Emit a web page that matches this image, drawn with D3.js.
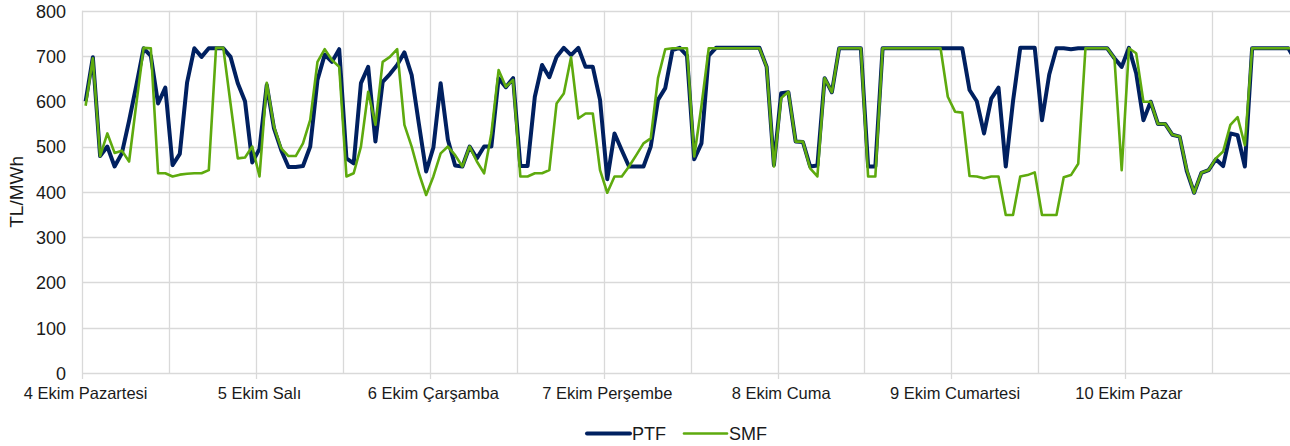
<!DOCTYPE html>
<html>
<head>
<meta charset="utf-8">
<script src="https://cdn.jsdelivr.net/npm/d3@7"></script>
<style>
  body { margin: 0; background: #fff; }
  text { font-family: "Liberation Sans", Arial, sans-serif; fill: #1a1a1a; }
</style>
</head>
<body>
<svg width="1290" height="446"></svg>
<script>
/* hourly PTF / SMF, 4-10 Ekim, 24 values per day */
var dayLabels = ["4 Ekim Pazartesi", "5 Ekim Salı", "6 Ekim Çarşamba", "7 Ekim Perşembe",
                 "8 Ekim Cuma", "9 Ekim Cumartesi", "10 Ekim Pazar"];

var ptf = [
  600,697,479,500,456,485,557,635,717,700,595,630,459,484,641,717,698,717,717,717,698,640,600,465,
  495,636,540,492,455,455,457,500,647,703,687,715,474,463,640,676,511,643,660,680,708,658,550,445,
  498,640,515,458,456,500,474,500,500,651,631,651,457,457,610,680,653,698,718,702,718,676,676,603,
  428,529,492,456,456,456,500,603,629,713,718,701,472,507,701,718,718,718,718,718,718,718,676,459,
  618,620,511,510,456,458,651,620,717,717,717,717,456,456,717,717,717,717,717,717,717,717,717,717,
  717,717,625,600,529,606,630,456,600,718,718,718,558,659,717,717,715,717,717,717,717,717,695,676,
  718,662,558,599,550,550,526,522,445,398,442,448,472,457,529,525,456,717,717,717,717,717,717,690
];

var smf = [
  590,695,479,529,486,491,467,595,718,717,441,441,434,438,440,441,441,448,718,718,595,474,476,500,
  434,641,544,496,479,479,507,559,687,715,691,676,434,441,500,621,548,687,698,715,548,500,441,393,
  434,485,500,481,456,500,467,441,529,669,632,647,434,434,441,441,448,595,617,697,562,573,573,448,
  398,434,434,456,481,507,518,651,715,717,717,717,478,590,717,717,717,717,717,717,717,717,676,456,
  607,621,511,511,452,434,651,620,717,717,717,717,434,434,717,717,717,717,717,717,717,717,717,610,
  577,575,435,434,430,434,434,349,349,434,437,443,349,349,349,432,437,462,717,717,717,717,695,448,
  717,706,599,599,550,550,526,522,448,398,442,448,474,489,548,565,503,717,717,717,717,717,717,717
];

var yTicks = [0, 100, 200, 300, 400, 500, 600, 700, 800];

var series = [
  {name: "PTF", values: ptf, color: "#002060", width: 4},
  {name: "SMF", values: smf, color: "#5eaa0e", width: 2.6}
];

// plot area runs a bit past the right edge of the picture (cropped in the original)
// (not "top": that name is taken by window.top)
var plotL = 82, plotR = 1299.2, plotT = 10.7, plotB = 373;

var hours = d3.range(ptf.length);
var x = d3.scaleBand().domain(hours).range([plotL, plotR]).padding(0);
var y = d3.scaleLinear().domain([0, 800]).range([plotB, plotT]);
var cx = function(i) { return x(i) + x.bandwidth() / 2; };

var svg = d3.select("svg");
var grid = "#d9d9d9";

// horizontal gridlines (0 line doubles as the axis)
svg.append("g").selectAll("line")
  .data(yTicks)
  .enter().append("line")
  .attr("x1", plotL).attr("x2", plotR)
  .attr("y1", function(d) { return Math.round(y(d)) + 0.5; })
  .attr("y2", function(d) { return Math.round(y(d)) + 0.5; })
  .attr("stroke", grid).attr("stroke-width", 1.3);

// vertical gridlines every 12 hours, at category boundaries
var halfDays = d3.range(0, hours.length, 12);
svg.append("g").selectAll("line")
  .data(halfDays)
  .enter().append("line")
  .attr("x1", function(d) { return Math.round(x(d)) + 0.5; })
  .attr("x2", function(d) { return Math.round(x(d)) + 0.5; })
  .attr("y1", plotT).attr("y2", plotB)
  .attr("stroke", grid).attr("stroke-width", 1.3);

// small tick marks below the axis, once per day
var dayStarts = d3.range(0, hours.length, 24);
svg.append("g").selectAll("line")
  .data(dayStarts)
  .enter().append("line")
  .attr("x1", function(d) { return Math.round(x(d)) + 0.5; })
  .attr("x2", function(d) { return Math.round(x(d)) + 0.5; })
  .attr("y1", plotB).attr("y2", plotB + 6)
  .attr("stroke", grid).attr("stroke-width", 1.3);

// y axis labels
var yAxis = svg.append("g")
  .attr("transform", "translate(" + plotL + ",0)")
  .call(d3.axisLeft(y).tickValues(yTicks).tickSize(0).tickPadding(16));
yAxis.select(".domain").remove();
yAxis.selectAll("text").style("font-size", "18px").attr("dy", "0.35em");

// x axis labels, one per day centred on the first hour
var xAxis = svg.append("g")
  .attr("transform", "translate(0," + plotB + ")")
  .call(d3.axisBottom(x).tickValues(dayStarts).tickSize(0)
    .tickFormat(function(d) { return dayLabels[d / 24]; }));
xAxis.select(".domain").remove();
xAxis.selectAll("text").style("font-size", "16.5px").attr("y", 26).attr("dy", 0);

// y axis title
svg.append("text")
  .attr("transform", "translate(23," + ((plotT + plotB) / 2) + ") rotate(-90)")
  .attr("text-anchor", "middle")
  .style("font-size", "19px")
  .text("TL/MWh");

// the two lines
var line = d3.line()
  .x(function(d, i) { return cx(i); })
  .y(function(d) { return y(d); });

svg.append("g").selectAll("path")
  .data(series)
  .enter().append("path")
  .attr("d", function(s) { return line(s.values); })
  .attr("fill", "none")
  .attr("stroke", function(s) { return s.color; })
  .attr("stroke-width", function(s) { return s.width; })
  .attr("stroke-linejoin", "round");

// legend at the bottom
var legendX = [587, 684];
var legend = svg.append("g").selectAll("g")
  .data(series)
  .enter().append("g")
  .attr("transform", function(s, i) { return "translate(" + legendX[i] + ",433.5)"; });
legend.append("line")
  .attr("x1", 0).attr("x2", 43)
  .attr("stroke", function(s) { return s.color; })
  .attr("stroke-width", function(s) { return s.width; })
  .attr("stroke-linecap", "round");
legend.append("text")
  .attr("x", 45).attr("y", 6.5)
  .style("font-size", "18px")
  .text(function(s) { return s.name; });
</script>
</body>
</html>
